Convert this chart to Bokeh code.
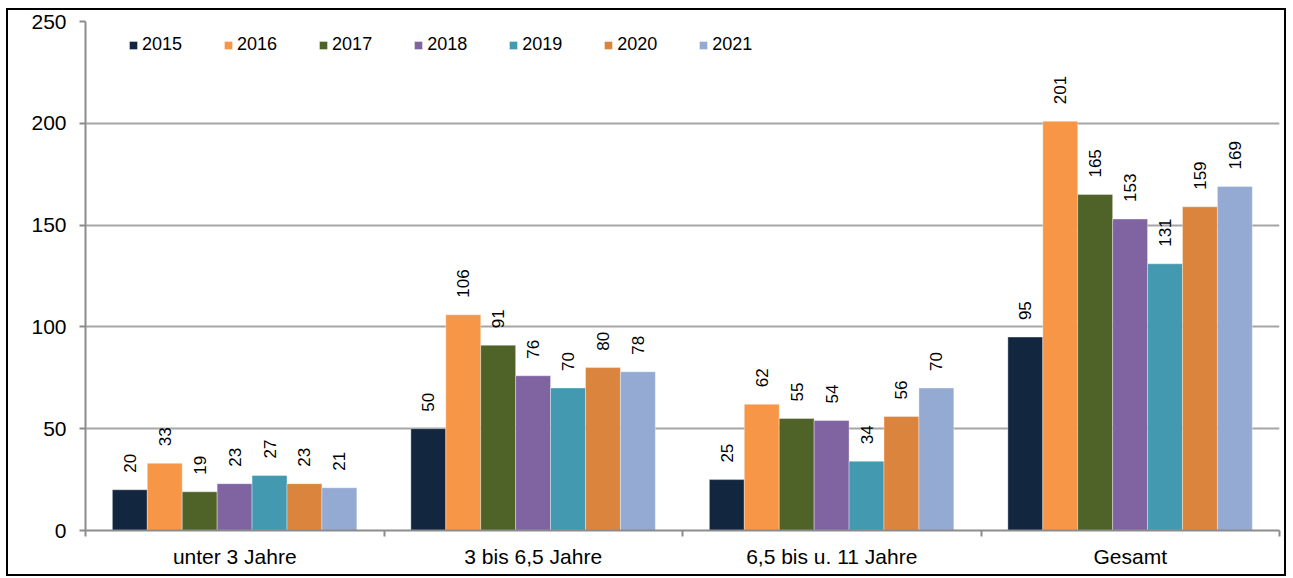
import numpy as np
from bokeh.plotting import figure
from bokeh.models import (ColumnDataSource, Range1d, FixedTicker, LabelSet,
                          Legend, LegendItem)
from bokeh.core.properties import value
from bokeh.embed import file_html
from bokeh.resources import INLINE

categories = ["unter 3 Jahre", "3 bis 6,5 Jahre", "6,5 bis u. 11 Jahre", "Gesamt"]
years = ["2015", "2016", "2017", "2018", "2019", "2020", "2021"]
values = {
    "2015": [20, 50, 25, 95],
    "2016": [33, 106, 62, 201],
    "2017": [19, 91, 55, 165],
    "2018": [23, 76, 54, 153],
    "2019": [27, 70, 34, 131],
    "2020": [23, 80, 56, 159],
    "2021": [21, 78, 70, 169],
}
colors = ["#12263F", "#F79646", "#4F6228", "#8064A2", "#4299B0", "#DB843D", "#95AAD2"]
y_ticks = [0, 50, 100, 150, 200, 250]

FONT = "Liberation Sans"

p = figure(width=1280, height=568, output_backend="svg", toolbar_location=None,
           x_range=Range1d(0, 4), y_range=Range1d(0, 250),
           min_border_left=77, min_border_right=9, min_border_top=11,
           min_border_bottom=48,
           styles={"border": "2px solid black", "margin-left": "6px",
                   "margin-top": "8px"})
p.outline_line_color = None

bar_w = 0.117
start = 0.09
renderers = []
for j, (yr, col) in enumerate(zip(years, colors)):
    xs = np.arange(len(categories)) + start + (j + 0.5) * bar_w
    src = ColumnDataSource(dict(x=xs, top=values[yr],
                                lab=[str(v) for v in values[yr]]))
    r = p.vbar(x="x", top="top", width=bar_w, bottom=0, source=src,
               fill_color=col, line_color="white", line_width=0.6, line_alpha=0.6)
    renderers.append(r)
    lbl = LabelSet(x="x", y="top", text="lab", source=src, angle=np.pi / 2,
                   text_align="left", text_baseline="middle", y_offset=17,
                   text_font=value(FONT), text_font_size="17px", text_color="black")
    p.add_layout(lbl)

# axes
p.xaxis.ticker = FixedTicker(ticks=[0.5, 1.5, 2.5, 3.5], minor_ticks=[0, 1, 2, 3, 4])
p.xaxis.major_label_overrides = {0.5: categories[0], 1.5: categories[1],
                                 2.5: categories[2], 3.5: categories[3]}
p.xaxis.major_tick_line_color = None
p.xaxis.minor_tick_out = 6
p.xaxis.minor_tick_in = 0
p.xaxis.minor_tick_line_color = "#8C8C8C"
p.xaxis.minor_tick_line_width = 2
p.xaxis.axis_line_color = "#8C8C8C"
p.xaxis.axis_line_width = 2
p.xaxis.major_label_text_font = FONT
p.xaxis.major_label_text_font_size = "21px"
p.xaxis.major_label_text_color = "black"
p.xaxis.major_label_standoff = 8

p.yaxis.ticker = FixedTicker(ticks=y_ticks)
p.yaxis.major_tick_out = 6
p.yaxis.major_tick_in = 0
p.yaxis.minor_tick_line_color = None
p.yaxis.major_tick_line_color = "#8C8C8C"
p.yaxis.major_tick_line_width = 2
p.yaxis.axis_line_color = "#8C8C8C"
p.yaxis.axis_line_width = 2
p.yaxis.major_label_text_font = FONT
p.yaxis.major_label_text_font_size = "21px"
p.yaxis.major_label_text_color = "black"
p.yaxis.major_label_standoff = 13

p.xgrid.grid_line_color = None
p.ygrid.grid_line_color = "#A6A6A6"
p.ygrid.grid_line_width = 2

legend = Legend(items=[LegendItem(label=y, renderers=[r]) for y, r in zip(years, renderers)],
                orientation="horizontal", location=(43, 475),
                glyph_width=10, glyph_height=10, label_standoff=4, spacing=41,
                padding=0, margin=0, border_line_color=None,
                background_fill_alpha=0,
                label_text_font=FONT, label_text_font_size="18px",
                label_text_color="black", label_height=21)
p.add_layout(legend)

open("out.html", "w").write(file_html(p, INLINE))
